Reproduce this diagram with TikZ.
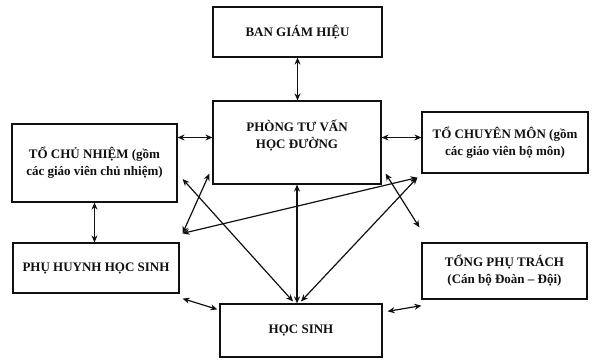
\documentclass[tikz,border=0pt]{standalone}
\usepackage{fontspec}
\setmainfont{Liberation Serif}
\usepackage{tikz}
\usetikzlibrary{positioning,calc,arrows.meta}
\definecolor{ink}{HTML}{111111}
\tikzset{
  every node/.style={font=\bfseries\fontsize{13}{17}\selectfont},
  % --- nodes
  unit/.style = {draw=ink, fill=white, align=center, inner sep=3pt,
                 line width=1.2pt, text=ink},
  % --- edges
  link/.style = {{Stealth[length=7pt,width=6pt]}-{Stealth[length=7pt,width=6pt]},
                 line width=1.2pt, draw=ink},
}

\begin{document}
\begin{tikzpicture}[x=1pt,y=1pt]
  \useasboundingbox[fill=white] (0,0) rectangle (596,359);

  \node[unit,minimum width=169,minimum height=50] (bgh) at (297.5,327) {BAN GIÁM HIỆU};
  \node[unit,minimum width=168,minimum height=83,text depth=16pt] (ptv) at (297,216.5) {PHÒNG TƯ VẤN\\HỌC ĐƯỜNG};
  \node[unit,minimum width=165,minimum height=78] (tcn) at (94.5,196) {TỔ CHỦ NHIỆM (gồm\\các giáo viên chủ nhiệm)};
  \node[unit,minimum width=166,minimum height=61] (tcm) at (505,216.5) {TỔ CHUYÊN MÔN (gồm\\các giáo viên bộ môn)};
  \node[unit,minimum width=166,minimum height=50] (ph) at (96,91) {PHỤ HUYNH HỌC SINH};
  \node[unit,minimum width=165,minimum height=56] (tpt) at (504.5,88) {TỔNG PHỤ TRÁCH\\(Cán bộ Đoàn -- Đội)};
  \node[unit,minimum width=162,minimum height=53] (hs) at (301,28.5) {HỌC SINH};

  \draw[link] (bgh.south) -- (bgh.south |- ptv.north);
  \draw[link] ($(ptv.west)+(0,5)$) -- ($(ptv.west -| tcn.east)+(0,5)$);
  \draw[link] ($(ptv.east)+(0,5)$) -- ($(ptv.east -| tcm.west)+(0,5)$);
  \draw[link] (tcn.south) -- (tcn.south |- ph.north);
  \draw[link] (ptv.south) -- (ptv.south |- hs.north);
  \draw[link] ([shift={(-3,11)}]ptv.south west) -- ([shift={(3,9)}]ph.north east);
  \draw[link] ([shift={(5,-16)}]tcn.east) -- ([shift={(-8,2)}]hs.north);
  \draw[link] ([shift={(4,11)}]ptv.south east) -- ([shift={(-2,15)}]tpt.north west);
  \draw[link] ([shift={(-4,-4)}]tcm.south west) -- ([shift={(0,2)}]hs.north);
  \draw[link] ([shift={(-4,-4)}]tcm.south west) -- ([shift={(3,9)}]ph.north east);
  \draw[link] ([shift={(3,-5)}]ph.south east) -- ([shift={(-2,-6)}]hs.north west);
  \draw[link] ([shift={(5,-8)}]hs.north east) -- ([shift={(0,-6)}]tpt.south west);
\end{tikzpicture}
\end{document}
